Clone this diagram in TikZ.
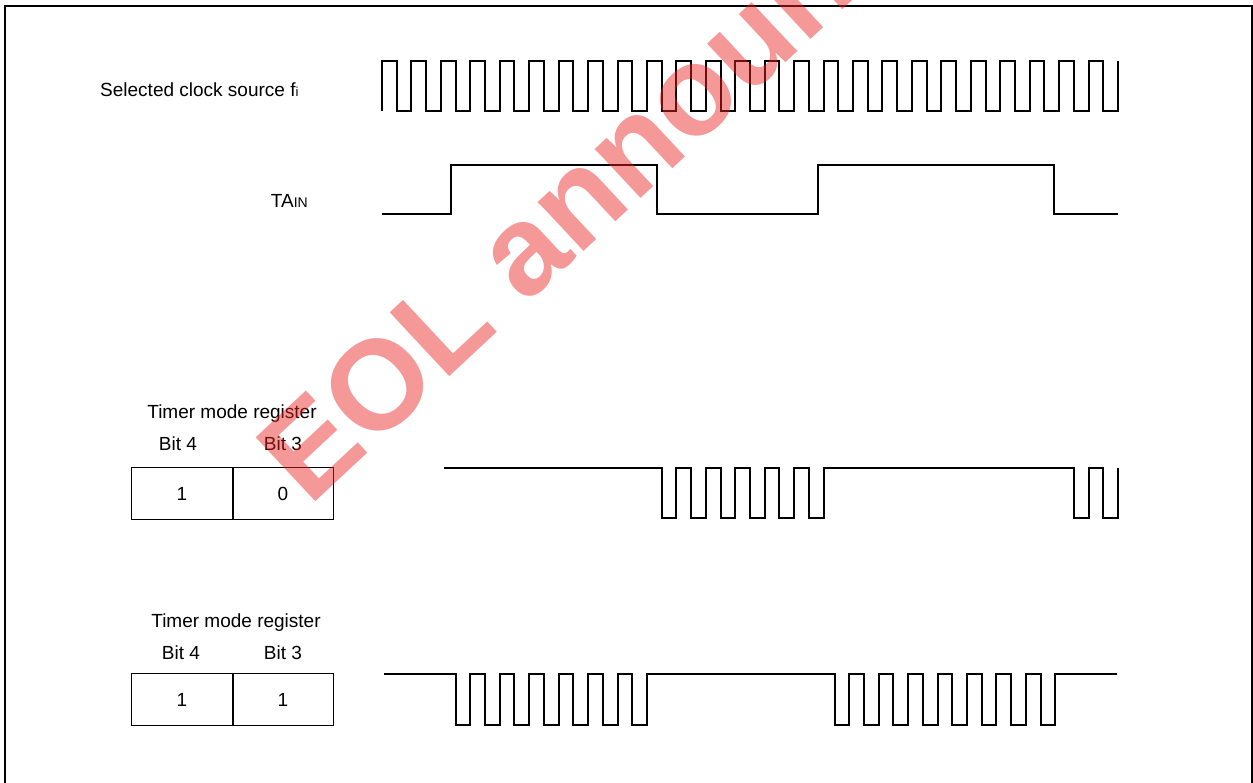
\documentclass[tikz,border=0pt]{standalone}
\usepackage{fontspec}
\setmainfont{Liberation Sans}
\definecolor{wm}{RGB}{232,36,36}
\begin{document}
\begin{tikzpicture}[x=1pt,y=-1pt,
  wave/.style={line width=2pt, line join=miter},
  lbl/.style={inner sep=0pt, font=\fontsize{19}{21}\selectfont},
  cell/.style={draw, line width=1.3pt, minimum width=101pt, minimum height=52pt, inner sep=0pt, font=\fontsize{19}{21}\selectfont},
  divider/.style={line width=2pt}]
\useasboundingbox (0,0) rectangle (1253,783);
\clip (0,0) rectangle (1253,783);
% frame
\draw[line width=2pt] (5,795) -- (5,6) -- (1252,6) -- (1252,795);
% labels
\node[lbl, anchor=base west] (clk) at (100,97) {Selected clock source f{\fontsize{13}{13}\selectfont i}};
\node[lbl, anchor=base east] (tain) at (308,208) {TA{\fontsize{14}{14}\selectfont IN}};
% clock
\draw[wave] (382,111) -- (382,61)
  foreach \k in {0,...,24}{ -- ({382+\k*29.44+14.72},61) -- ({382+\k*29.44+14.72},111)
     -- ({382+(\k+1)*29.44},111) -- ({382+(\k+1)*29.44},61) };
% TAin
\draw[wave] (382,214) -- (451,214) -- (451,165) -- (657,165) -- (657,214) -- (818,214)
  -- (818,165) -- (1054,165) -- (1054,214) -- (1118,214);
% register 1
\node[lbl, anchor=base] (t1) at (232,419) {Timer mode register};
\node[lbl, anchor=base] (b14) at (178,450) {Bit 4};
\node[lbl, anchor=base] (b13) at (283,450) {Bit 3};
\node[cell] (r1a) at (182,493.5) {1};
\node[cell] (r1b) at (283,493.5) {0};
\draw[divider] (r1a.north east) -- (r1a.south east);
% register 2
\node[lbl, anchor=base] (t2) at (236,627.5) {Timer mode register};
\node[lbl, anchor=base] (b24) at (181,659.5) {Bit 4};
\node[lbl, anchor=base] (b23) at (283,659.5) {Bit 3};
\node[cell] (r2a) at (182,699.5) {1};
\node[cell] (r2b) at (283,699.5) {1};
\draw[divider] (r2a.north east) -- (r2a.south east);
% output wave, bits 10
\draw[wave] (444,468)
  foreach \k in {9,...,14}{ -- ({382+\k*29.44+14.72},468) -- ({382+\k*29.44+14.72},518)
     -- ({382+(\k+1)*29.44},518) -- ({382+(\k+1)*29.44},468) }
  foreach \k in {23,24}{ -- ({382+\k*29.44+14.72},468) -- ({382+\k*29.44+14.72},518)
     -- ({382+(\k+1)*29.44},518) -- ({382+(\k+1)*29.44},468) };
% output wave, bits 11
\draw[wave] (383.5,674)
  foreach \k in {2,...,8}{ -- ({382+\k*29.44+14.72},674) -- ({382+\k*29.44+14.72},725)
     -- ({382+(\k+1)*29.44},725) -- ({382+(\k+1)*29.44},674) }
  foreach \k in {0,...,7}{ -- ({834.5+\k*29.44},674) -- ({834.5+\k*29.44},725)
     -- ({849.2+\k*29.44},725) -- ({849.2+\k*29.44},674) }
  -- (1117,674);
% watermark
\node[rotate=43, anchor=base west, text=wm, text opacity=0.47, inner sep=0pt,
  font=\fontsize{127}{130}\selectfont\bfseries] (wmark) at (309,508) {EOL announced};
\end{tikzpicture}
\end{document}
